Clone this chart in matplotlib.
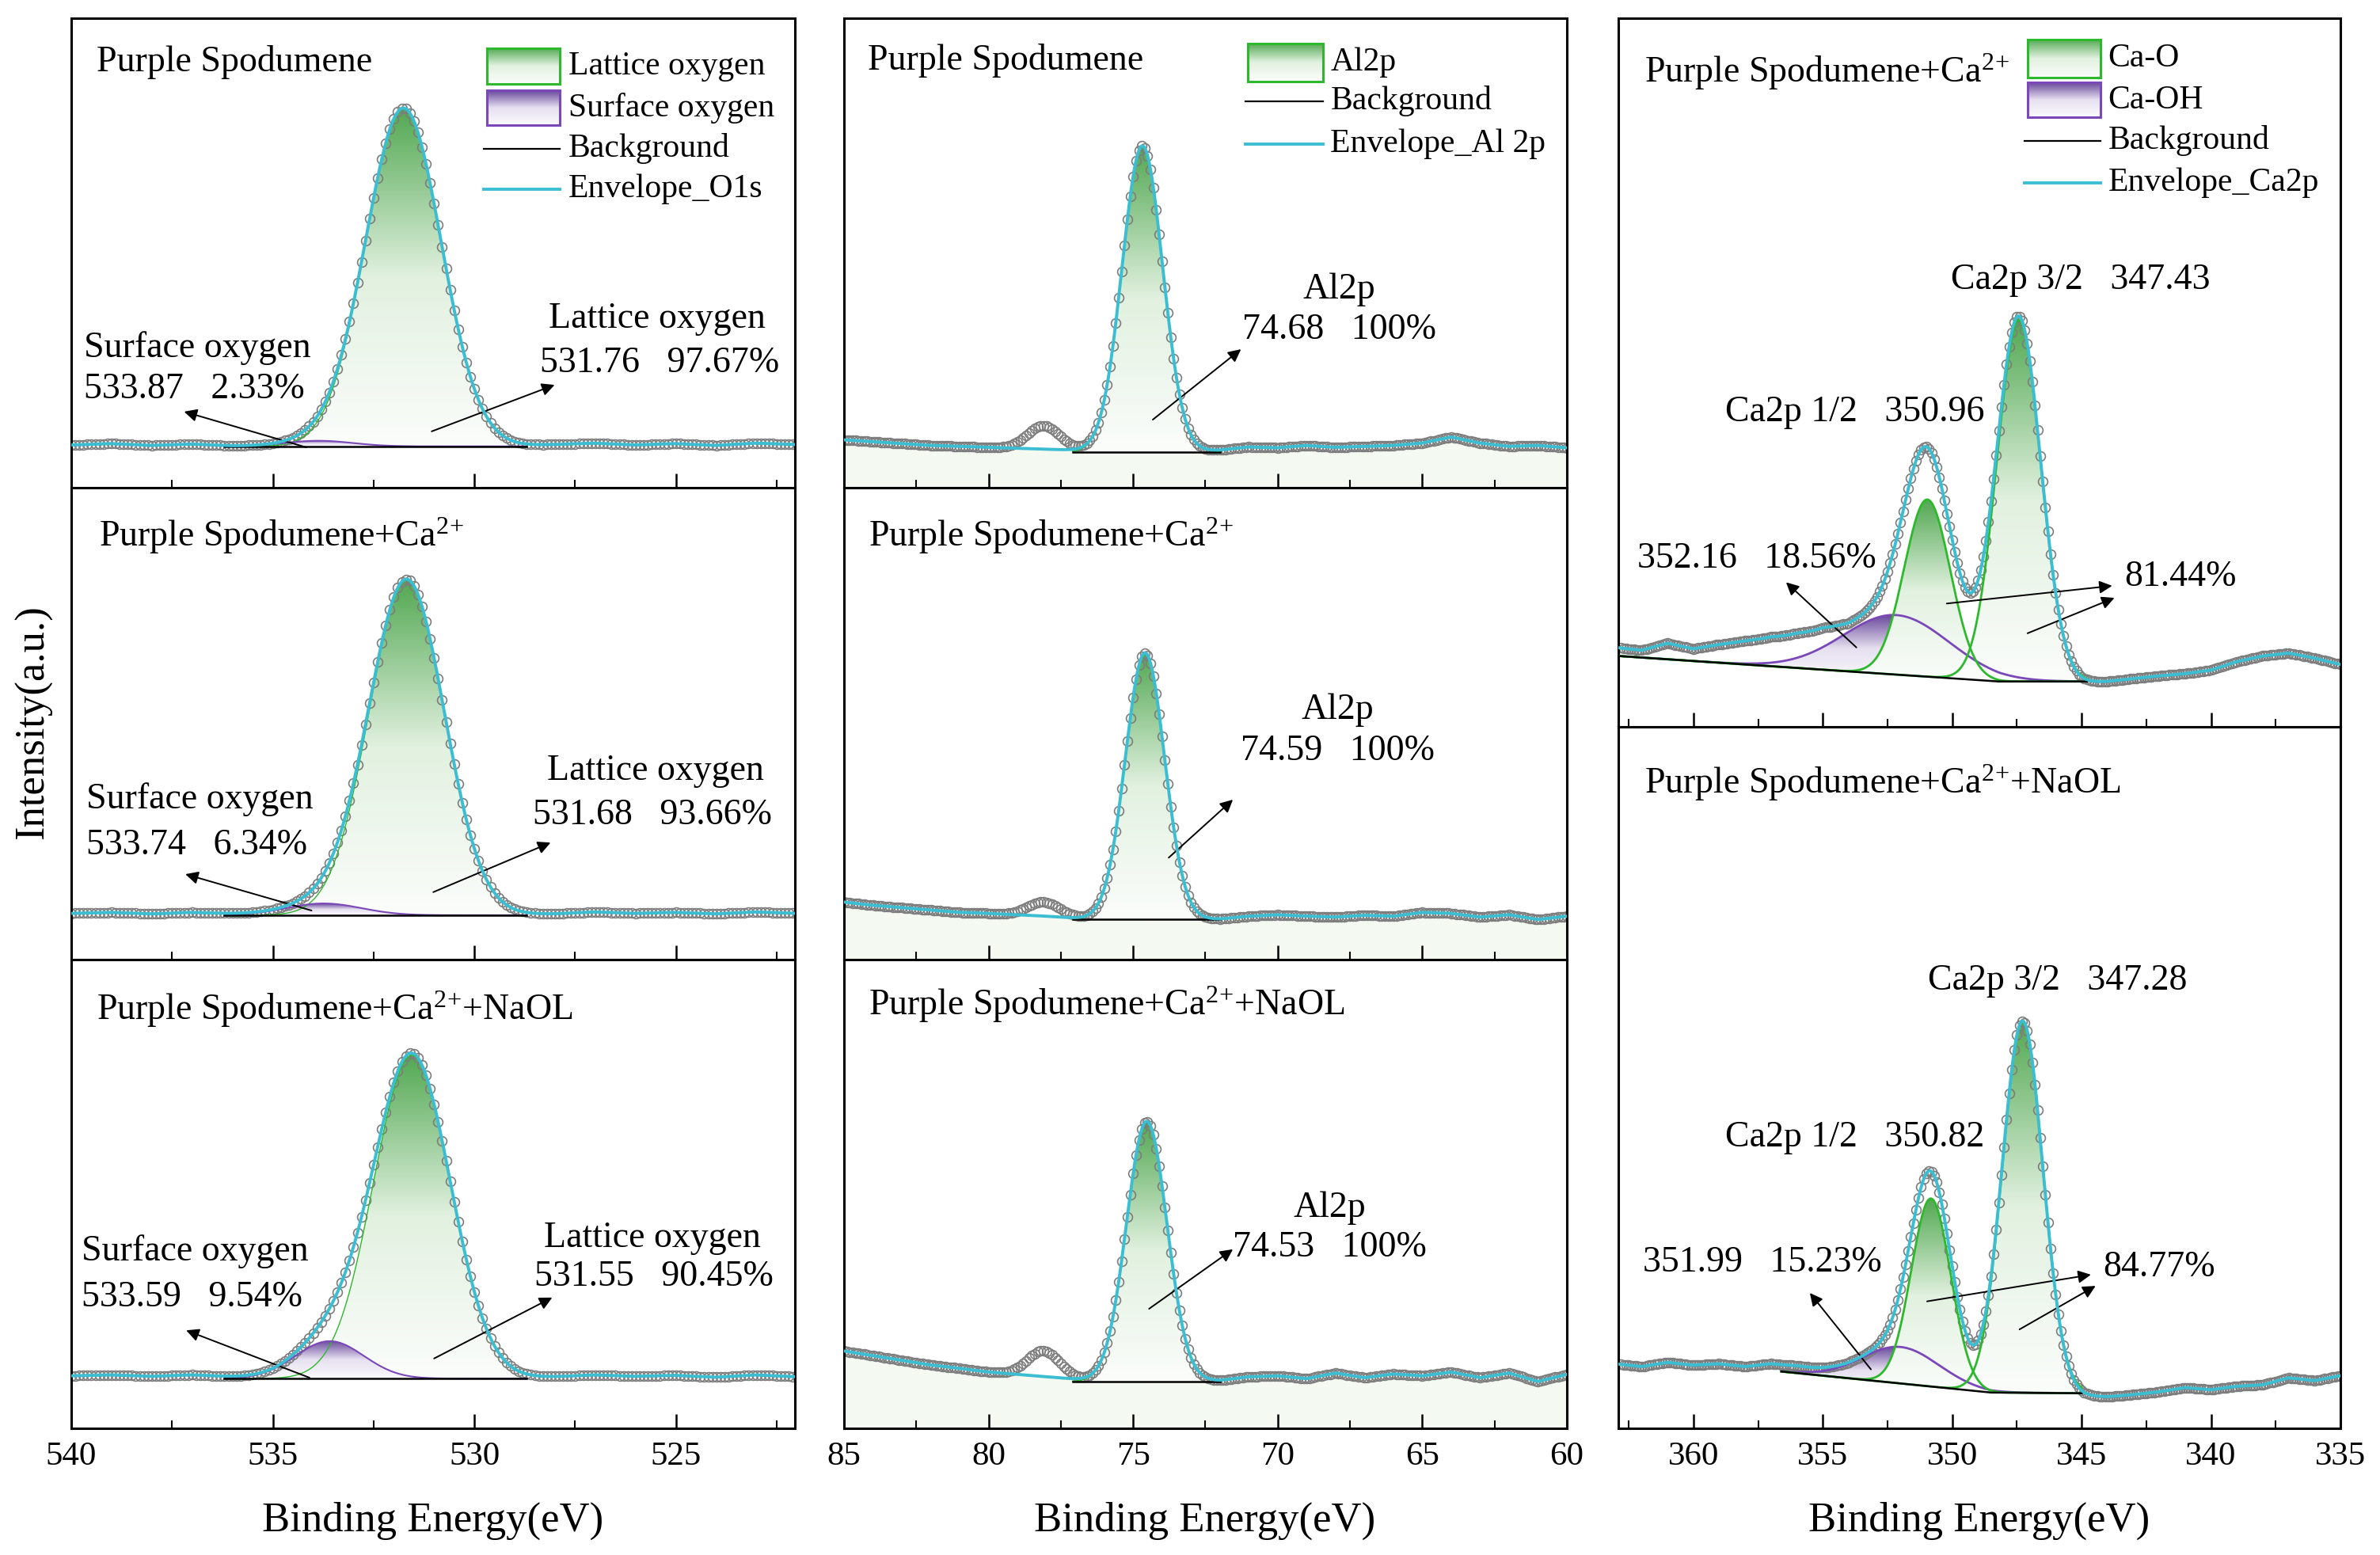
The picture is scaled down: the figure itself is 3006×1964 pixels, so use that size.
import numpy as np
import matplotlib
matplotlib.use("Agg")
import matplotlib.pyplot as plt
from matplotlib.colors import LinearSegmentedColormap
from matplotlib.ticker import MultipleLocator

plt.rcParams["font.family"] = ["Liberation Serif", "DejaVu Serif"]
plt.rcParams["mathtext.default"] = "regular"

# sample names (one per row)
CA = "Ca$^{2}$$^{+}$"
samples = ["Purple Spodumene", "Purple Spodumene+" + CA,
           "Purple Spodumene+" + CA + "+NaOL"]

# ---- O 1s (left column); intensities as fraction of panel height ----
o1s_lat_center = [531.76, 531.68, 531.55]
o1s_lat_height = [0.72, 0.71, 0.69]
o1s_lat_fwhm = [2.2, 2.2, 2.25]
o1s_lat_pct = [97.67, 93.66, 90.45]
o1s_sur_center = [533.87, 533.74, 533.59]
o1s_sur_height = [0.012, 0.025, 0.08]
o1s_sur_fwhm = [2.0, 2.2, 2.0]
o1s_sur_pct = [2.33, 6.34, 9.54]
o1s_bg_e = [528.7, 536.2]
o1s_bg_y = [[0.088, 0.088], [0.094, 0.094], [0.106, 0.106]]
o1s_base_e = list(range(522, 541))
o1s_base_y = [
    [0.092, 0.095, 0.090, 0.094, 0.091, 0.095, 0.092, 0.089, 0.088, 0.088,
     0.088, 0.088, 0.088, 0.088, 0.089, 0.093, 0.090, 0.094, 0.091],
    [0.098, 0.101, 0.097, 0.100, 0.098, 0.101, 0.097, 0.095, 0.094, 0.094,
     0.094, 0.094, 0.094, 0.095, 0.097, 0.100, 0.097, 0.100, 0.098],
    [0.110, 0.114, 0.109, 0.113, 0.111, 0.114, 0.110, 0.107, 0.106, 0.106,
     0.106, 0.106, 0.106, 0.107, 0.110, 0.114, 0.111, 0.114, 0.112],
]

# ---- Al 2p (middle column) ----
al_center = [74.68, 74.59, 74.53]
al_height = [0.652, 0.565, 0.555]
al_fwhm = [1.65, 1.6, 1.65]
al_sat_center = 78.1          # small unfitted feature in the raw data
al_sat_height = [0.05, 0.03, 0.055]
al_sat_fwhm = 1.3
al_bg_e = [72.0, 77.1]
al_bg_y = [[0.076, 0.076], [0.085, 0.085], [0.100, 0.100]]
al_base_e = list(range(60, 86))
al_base_y = [
    [0.085, 0.090, 0.088, 0.095, 0.108, 0.095, 0.090, 0.088, 0.086, 0.090,
     0.085, 0.087, 0.080, 0.076, 0.076, 0.076, 0.076, 0.080, 0.082, 0.084,
     0.086, 0.088, 0.090, 0.094, 0.098, 0.102],
    [0.092, 0.085, 0.095, 0.090, 0.098, 0.100, 0.092, 0.094, 0.090, 0.092,
     0.095, 0.092, 0.086, 0.085, 0.085, 0.085, 0.085, 0.088, 0.092, 0.095,
     0.098, 0.100, 0.105, 0.110, 0.115, 0.122],
    [0.115, 0.100, 0.118, 0.108, 0.120, 0.112, 0.116, 0.108, 0.118, 0.106,
     0.112, 0.110, 0.102, 0.100, 0.100, 0.100, 0.100, 0.105, 0.110, 0.115,
     0.120, 0.128, 0.135, 0.145, 0.155, 0.165],
]

# ---- Ca 2p (right column) ----
ca_o_center = [[350.96, 347.43], [350.82, 347.28]]
ca_o_height = [[0.25, 0.51], [0.268, 0.53]]
ca_o_fwhm = [[2.1, 2.0], [1.8, 1.85]]
ca_o_pct = [81.44, 84.77]
ca_oh_center = [352.16, 351.99]
ca_oh_height = [0.084, 0.052]
ca_oh_fwhm = [4.8, 3.5]
ca_oh_pct = [18.56, 15.23]
ca_bg_e = [[344.8, 348.2, 362.9], [345.0, 348.5, 356.6]]
ca_bg_y = [[0.064, 0.064, 0.100], [0.050, 0.051, 0.081]]
ca_base_e = list(range(335, 364))
ca_base_y = [
    [0.088, 0.097, 0.104, 0.100, 0.092, 0.080, 0.075, 0.072, 0.068, 0.064,
     0.062, 0.064, 0.064, 0.064, 0.067, 0.071, 0.074, 0.078, 0.082, 0.090,
     0.108, 0.118, 0.122, 0.120, 0.116, 0.110, 0.118, 0.108, 0.112],
    [0.075, 0.068, 0.072, 0.062, 0.060, 0.055, 0.058, 0.052, 0.048, 0.045,
     0.046, 0.050, 0.050, 0.051, 0.054, 0.058, 0.061, 0.065, 0.069, 0.073,
     0.080, 0.088, 0.092, 0.088, 0.092, 0.090, 0.094, 0.088, 0.092],
]

# ---------------------------------------------------------------------------
W, H = 3006, 1964
fig = plt.figure(figsize=(W / 100, H / 100), dpi=100)

green_cmap = LinearSegmentedColormap.from_list("g", ["#fbfdfb", "#e2f1e0", "#52a852"])
purple_cmap = LinearSegmentedColormap.from_list("p", ["#fbfafd", "#e6e0f0", "#6a4a9c"])
GREEN_EDGE = "#2eb82e"
PURPLE_EDGE = "#7a48b8"
CYAN = "#3bbdd2"
GREY = "#7d7d7d"
FS = 33
LEG_FS = 30
MS, MEW = 8.5, 1.2


def gauss(e, c, h, w):
    return h * np.exp(-4 * np.log(2) * ((e - c) / w) ** 2)


def panel(x0, x1, y0, y1):
    return fig.add_axes([x0 / W, 1 - y1 / H, (x1 - x0) / W, (y1 - y0) / H])


def grad_fill(ax, e, lower, upper, cmap, edge, lw=1.3):
    poly = ax.fill_between(e, lower, upper, facecolor="none", edgecolor="none")
    img = ax.imshow(np.linspace(0, 1, 256).reshape(-1, 1), cmap=cmap,
                    origin="lower", aspect="auto", interpolation="bilinear",
                    extent=[e.min(), e.max(), lower.min(), upper.max()], zorder=1)
    img.set_clip_path(poly.get_paths()[0], transform=ax.transData)
    ax.plot(e, upper, color=edge, lw=lw, zorder=3)


def style(ax, xlim, show_labels):
    ax.set_xlim(*xlim)
    ax.set_ylim(0, 1)
    ax.set_yticks([])
    ax.xaxis.set_major_locator(MultipleLocator(5))
    ax.xaxis.set_minor_locator(MultipleLocator(2.5))
    ax.tick_params(axis="x", which="major", direction="in", length=13, width=1.8,
                   labelsize=31, pad=12, labelbottom=show_labels)
    ax.tick_params(axis="x", which="minor", direction="in", length=7, width=1.5)
    for s in ax.spines.values():
        s.set_linewidth(2.2)


def legend(ax, x, w, patches, lines, text_x):
    # patches: (y, h, label, cmap, edge) ; lines: (y, label, color, lw)
    for y, h, lab, cmap, edge in patches:
        lax = ax.inset_axes([x, y, w, h])
        lax.imshow(np.linspace(0, 1, 64).reshape(-1, 1), cmap=cmap, origin="lower",
                   aspect="auto", extent=[0, 1, 0, 1])
        lax.set_xticks([])
        lax.set_yticks([])
        for s in lax.spines.values():
            s.set_color(edge)
            s.set_linewidth(2.2)
        ax.text(text_x, y + h / 2, lab, transform=ax.transAxes, fontsize=LEG_FS,
                ha="left", va="center")
    for y, lab, color, lw in lines:
        ax.plot([x - 0.004, x + w], [y, y], transform=ax.transAxes, color=color, lw=lw)
        ax.text(text_x, y, lab, transform=ax.transAxes, fontsize=LEG_FS,
                ha="left", va="center")


def arrow(ax, tail, head):
    ax.annotate("", xy=head, xytext=tail,
                arrowprops=dict(arrowstyle="-|>", color="black", lw=1.4,
                                mutation_scale=24, shrinkA=0, shrinkB=0))


rows3 = [(23, 616), (616, 1212), (1212, 1804)]
rows2 = [(23, 918), (918, 1804)]

# ---------------- O 1s ----------------
o1s_title_pos = [(539.37, 0.906), (539.31, 0.898), (539.37, 0.894)]
o1s_sur_txt = [(539.69, 0.298, 0.209), (539.63, 0.339, 0.242), (539.75, 0.377, 0.279)]
o1s_lat_txt = [(528.15, 0.359, 528.37, 0.266), (528.19, 0.399, 528.56, 0.305),
               (528.27, 0.405, 528.52, 0.323)]
o1s_sur_arr = [((534.17, 0.086), (537.20, 0.162)), ((534.04, 0.104), (537.17, 0.181)),
               ((534.09, 0.108), (537.15, 0.209))]
o1s_lat_arr = [((531.06, 0.120), (528.01, 0.219)), ((531.02, 0.143), (528.11, 0.248)),
               ((531.00, 0.149), (528.07, 0.279))]

e_fine = np.arange(522.0, 540.001, 0.02)
e_pts = np.arange(522.0, 540.001, 0.1)
e_fit = np.linspace(o1s_bg_e[0], o1s_bg_e[1], 600)
for i, (y0, y1) in enumerate(rows3):
    ax = panel(90, 1004, y0, y1)

    def envelope(e):
        return (np.interp(e, o1s_base_e, o1s_base_y[i])
                + gauss(e, o1s_lat_center[i], o1s_lat_height[i], o1s_lat_fwhm[i])
                + gauss(e, o1s_sur_center[i], o1s_sur_height[i], o1s_sur_fwhm[i]))

    bg = np.interp(e_fit, o1s_bg_e, o1s_bg_y[i])
    grad_fill(ax, e_fit, bg, bg + gauss(e_fit, o1s_lat_center[i], o1s_lat_height[i],
                                        o1s_lat_fwhm[i]), green_cmap, GREEN_EDGE, 1.0)
    grad_fill(ax, e_fit, bg, bg + gauss(e_fit, o1s_sur_center[i], o1s_sur_height[i],
                                        o1s_sur_fwhm[i]), purple_cmap, PURPLE_EDGE, 1.5)
    ax.plot(e_pts, envelope(e_pts), "o", mfc="none", mec=GREY, ms=MS, mew=MEW, zorder=2)
    ax.plot(o1s_bg_e, o1s_bg_y[i], color="black", lw=1.8, zorder=4)
    ax.plot(e_fine, envelope(e_fine), color=CYAN, lw=2.8, zorder=5)

    ax.text(*o1s_title_pos[i], samples[i], fontsize=FS, ha="left", va="center")
    sx, sy1, sy2 = o1s_sur_txt[i]
    ax.text(sx, sy1, "Surface oxygen", fontsize=FS, ha="left", va="center")
    ax.text(sx, sy2, f"{o1s_sur_center[i]:.2f}   {o1s_sur_pct[i]:.2f}%", fontsize=FS,
            ha="left", va="center")
    lx1, ly1, lx2, ly2 = o1s_lat_txt[i]
    ax.text(lx1, ly1, "Lattice oxygen", fontsize=FS, ha="left", va="center")
    ax.text(lx2, ly2, f"{o1s_lat_center[i]:.2f}   {o1s_lat_pct[i]:.2f}%", fontsize=FS,
            ha="left", va="center")
    arrow(ax, *o1s_sur_arr[i])
    arrow(ax, *o1s_lat_arr[i])
    if i == 0:
        legend(ax, 0.574, 0.101,
               [(0.860, 0.076, "Lattice oxygen", green_cmap, GREEN_EDGE),
                (0.772, 0.074, "Surface oxygen", purple_cmap, PURPLE_EDGE)],
               [(0.722, "Background", "black", 1.6), (0.636, "Envelope_O1s", CYAN, 2.8)],
               0.687)
    style(ax, (540, 522.05), i == 2)

# ---------------- Al 2p ----------------
al_title_pos = [(84.18, 0.909), (84.15, 0.898), (84.15, 0.904)]
al_txt = [(67.88, 0.422, 0.336), (67.93, 0.529, 0.441), (68.21, 0.470, 0.385)]
al_arr = [((74.32, 0.145), (71.27, 0.295)), ((73.77, 0.216), (71.55, 0.339)),
          ((74.45, 0.255), (71.55, 0.382))]

e_fine = np.arange(60.0, 85.001, 0.02)
e_pts = np.arange(60.0, 85.001, 0.1)
e_fit = np.linspace(al_bg_e[0], al_bg_e[1], 600)
for i, (y0, y1) in enumerate(rows3):
    ax = panel(1066, 1979, y0, y1)
    base = np.interp(e_fine, al_base_e, al_base_y[i])
    ax.fill_between(e_fine, 0, base, color="#f4f9f2", lw=0, zorder=0)

    def envelope(e):
        return (np.interp(e, al_base_e, al_base_y[i])
                + gauss(e, al_center[i], al_height[i], al_fwhm[i]))

    bg = np.interp(e_fit, al_bg_e, al_bg_y[i])
    grad_fill(ax, e_fit, bg, bg + gauss(e_fit, al_center[i], al_height[i], al_fwhm[i]),
              green_cmap, GREEN_EDGE, 1.0)
    raw = envelope(e_pts) + gauss(e_pts, al_sat_center, al_sat_height[i], al_sat_fwhm)
    ax.plot(e_pts, raw, "o", mfc="none", mec=GREY, ms=MS, mew=MEW, zorder=2)
    ax.plot(al_bg_e, al_bg_y[i], color="black", lw=1.8, zorder=4)
    ax.plot(e_fine, envelope(e_fine), color=CYAN, lw=2.8, zorder=5)

    ax.text(*al_title_pos[i], samples[i], fontsize=FS, ha="left", va="center")
    tx, ty1, ty2 = al_txt[i]
    ax.text(tx, ty1, "Al2p", fontsize=FS, ha="center", va="center")
    ax.text(tx, ty2, f"{al_center[i]:.2f}   100%", fontsize=FS, ha="center", va="center")
    arrow(ax, *al_arr[i])
    if i == 0:
        legend(ax, 0.559, 0.104,
               [(0.865, 0.081, "Al2p", green_cmap, GREEN_EDGE)],
               [(0.823, "Background", "black", 1.6), (0.732, "Envelope_Al 2p", CYAN, 2.8)],
               0.673)
    style(ax, (85, 60), i == 2)

# ---------------- Ca 2p ----------------
ca_title_pos = [(361.89, 0.924), (361.89, 0.920)]
ca_32_txt = [(345.04, 0.631), (345.93, 0.638)]
ca_12_txt = [(353.76, 0.444), (353.76, 0.414)]
ca_oh_txt = [(357.55, 0.237), (357.33, 0.236)]
ca_o_txt = [(343.33, 0.211), (344.18, 0.229)]
ca_oh_arr = [((353.70, 0.112), (356.42, 0.204)), ((353.14, 0.084), (355.50, 0.193))]
ca_o_arr = [[((350.21, 0.174), (343.82, 0.199)), ((347.09, 0.132), (343.73, 0.182))],
            [((350.97, 0.181), (344.64, 0.219)), ((347.40, 0.141), (344.46, 0.203))]]

e_fine = np.arange(335.0, 362.9, 0.02)
e_pts = np.arange(335.0, 362.9, 0.1)
for i, (y0, y1) in enumerate(rows2):
    ax = panel(2044, 2956, y0, y1)
    bg_e = ca_bg_e[i]
    e_fit = np.linspace(bg_e[0], bg_e[-1], 800)
    bg = np.interp(e_fit, bg_e, ca_bg_y[i])

    def envelope(e):
        y = np.interp(e, ca_base_e, ca_base_y[i])
        y = y + gauss(e, ca_oh_center[i], ca_oh_height[i], ca_oh_fwhm[i])
        for c, h, w in zip(ca_o_center[i], ca_o_height[i], ca_o_fwhm[i]):
            y = y + gauss(e, c, h, w)
        return y

    grad_fill(ax, e_fit, bg, bg + gauss(e_fit, ca_oh_center[i], ca_oh_height[i],
                                        ca_oh_fwhm[i]), purple_cmap, PURPLE_EDGE, 2.0)
    for c, h, w in zip(ca_o_center[i], ca_o_height[i], ca_o_fwhm[i]):
        grad_fill(ax, e_fit, bg, bg + gauss(e_fit, c, h, w), green_cmap, GREEN_EDGE, 2.0)
    ax.plot(e_pts, envelope(e_pts), "o", mfc="none", mec=GREY, ms=MS, mew=MEW, zorder=2)
    ax.plot(bg_e, ca_bg_y[i], color="black", lw=1.8, zorder=4)
    ax.plot(e_fine, envelope(e_fine), color=CYAN, lw=2.8, zorder=5)

    ax.text(*ca_title_pos[i], samples[i + 1], fontsize=FS, ha="left", va="center")
    ax.text(*ca_32_txt[i], f"Ca2p 3/2   {ca_o_center[i][1]:.2f}", fontsize=FS,
            ha="center", va="center")
    ax.text(*ca_12_txt[i], f"Ca2p 1/2   {ca_o_center[i][0]:.2f}", fontsize=FS,
            ha="center", va="center")
    ax.text(*ca_oh_txt[i], f"{ca_oh_center[i]:.2f}   {ca_oh_pct[i]:.2f}%", fontsize=FS,
            ha="center", va="center")
    ax.text(*ca_o_txt[i], f"{ca_o_pct[i]:.2f}%", fontsize=FS, ha="left", va="center")
    arrow(ax, *ca_oh_arr[i])
    for tail, head in ca_o_arr[i]:
        arrow(ax, tail, head)
    if i == 0:
        legend(ax, 0.567, 0.101,
               [(0.916, 0.054, "Ca-O", green_cmap, GREEN_EDGE),
                (0.860, 0.049, "Ca-OH", purple_cmap, PURPLE_EDGE)],
               [(0.827, "Background", "black", 1.6), (0.768, "Envelope_Ca2p", CYAN, 2.8)],
               0.678)
    style(ax, (362.9, 335), i == 1)

# axis titles
for xc in [547, 1522, 2500]:
    fig.text(xc / W, 1 - 1921 / H, "Binding Energy(eV)", fontsize=38,
             ha="center", va="center")
fig.text(42 / W, 1 - 912 / H, "Intensity(a.u.)", fontsize=38, rotation=90,
         ha="center", va="center")

fig.savefig("out.png", dpi=100)
